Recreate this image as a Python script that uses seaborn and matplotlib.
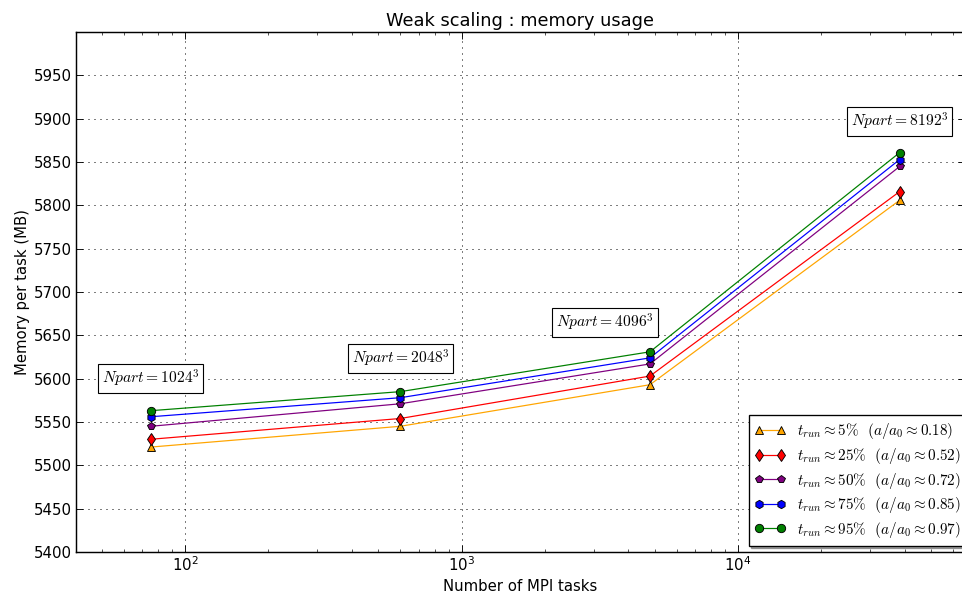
"""
Weak scaling: hukommelsesforbrug pr. MPI task.
"""
import numpy as np
import pandas as pd
import matplotlib
matplotlib.use("Agg")
import matplotlib.pyplot as plt
import seaborn as sns

# data
mpi_tasks = [75, 600, 4800, 38400]
mem_t05 = [5521, 5545, 5593, 5806]
mem_t25 = [5530, 5554, 5603, 5816]
mem_t50 = [5545, 5571, 5617, 5845]
mem_t75 = [5556, 5578, 5624, 5853]
mem_t95 = [5563, 5585, 5631, 5861]

series_labels = [
    r"$t_{run} \approx 5\%$  $(a/a_0 \approx 0.18)$",
    r"$t_{run} \approx 25\%$  $(a/a_0 \approx 0.52)$",
    r"$t_{run} \approx 50\%$  $(a/a_0 \approx 0.72)$",
    r"$t_{run} \approx 75\%$  $(a/a_0 \approx 0.85)$",
    r"$t_{run} \approx 95\%$  $(a/a_0 \approx 0.97)$",
]
series_colors = ["orange", "red", "purple", "blue", "green"]
series_markers = ["^", "d", "p", "h", "o"]

npart_labels = [r"$Npart=1024^3$", r"$Npart=2048^3$", r"$Npart=4096^3$", r"$Npart=8192^3$"]
npart_x = [75, 600, 3300, 38400]
npart_y = [5600, 5623, 5665, 5897]

yticks = [5400, 5450, 5500, 5550, 5600, 5650, 5700, 5750, 5800, 5850, 5900, 5950]

sns.set_style("ticks")
plt.rcParams["font.family"] = ["DejaVu Sans"]
plt.rcParams["mathtext.fontset"] = "cm"
plt.rcParams["xtick.direction"] = "in"
plt.rcParams["ytick.direction"] = "in"
for key in ["text.color", "axes.labelcolor", "xtick.color", "ytick.color"]:
    plt.rcParams[key] = "black"

fig = plt.figure(figsize=(962 / 80, 596 / 80), dpi=80)
ax = fig.add_axes([0.079, 0.074, 0.924, 0.872])

all_series = [mem_t05, mem_t25, mem_t50, mem_t75, mem_t95]
for vals, lab, col, mk in zip(all_series, series_labels, series_colors, series_markers):
    df = pd.DataFrame({"tasks": mpi_tasks, "mem": vals})
    sns.lineplot(data=df, x="tasks", y="mem", ax=ax, color=col, marker=mk,
                 markersize=7.5, markeredgecolor="black", markeredgewidth=0.8,
                 linewidth=1.1, label=lab)

for txt, x, y in zip(npart_labels, npart_x, npart_y):
    ax.text(x, y, txt, ha="center", va="center", fontsize=14,
            bbox=dict(boxstyle="square,pad=0.25", fc="white", ec="black", lw=1))

ax.set_xscale("log")
ax.set_xlim(40.3, 66100)
ax.set_ylim(5400, 6000)
ax.set_yticks(yticks)
ax.grid(True, which="major", color="black", linewidth=0.9, dashes=(1, 5))
ax.tick_params(which="both", top=True, right=True, labelsize=13.5, colors="black")
ax.tick_params(which="major", length=6)
ax.tick_params(which="minor", length=3)
for sp in ax.spines.values():
    sp.set_linewidth(1.3)
    sp.set_color("black")

ax.set_title("Weak scaling : memory usage", fontsize=16, color="black")
ax.set_xlabel("Number of MPI tasks", fontsize=13.4, color="black")
ax.set_ylabel("Memory per task (MB)", fontsize=13.4, color="black")

leg = ax.legend(loc="lower left", bbox_to_anchor=(0.757, 0.012), fontsize=13.6,
                numpoints=2, handlelength=2.0, frameon=True, fancybox=False,
                shadow=True, borderaxespad=0, labelspacing=0.3)
leg.get_frame().set_edgecolor("black")
leg.get_frame().set_linewidth(1.2)
for t in leg.get_texts():
    t.set_color("black")

fig.savefig("out.png", dpi=80)
